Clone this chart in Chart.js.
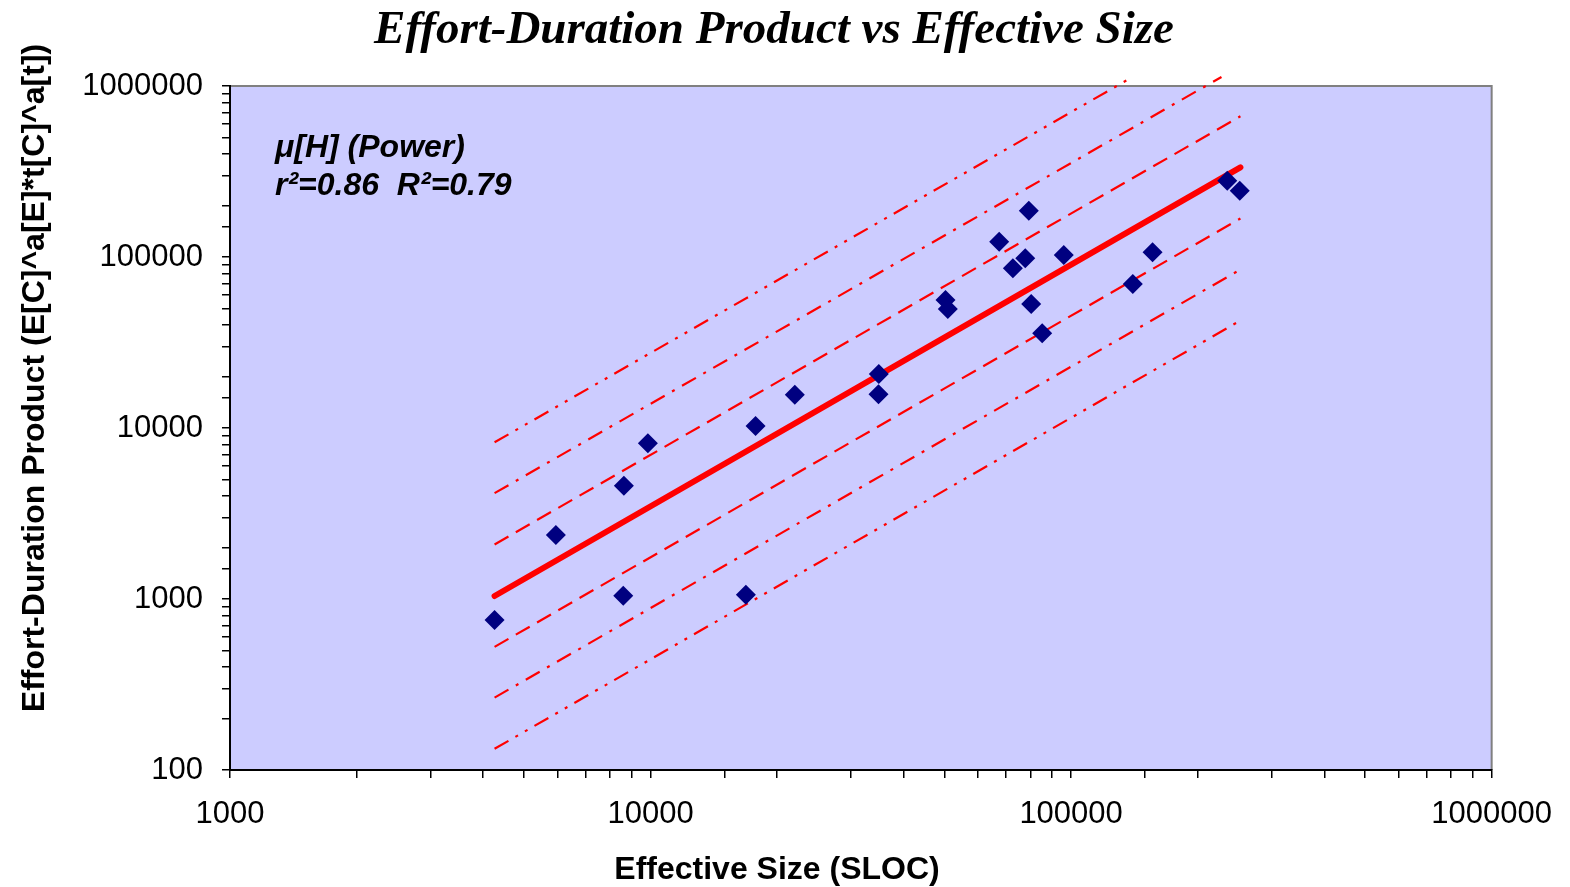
<!DOCTYPE html>
<html>
<head>
<meta charset="utf-8">
<title>Effort-Duration Product vs Effective Size</title>
<script src="https://cdn.jsdelivr.net/npm/chart.js@4/dist/chart.umd.min.js"></script>
<style>
  html, body { margin: 0; padding: 0; background: #fff; }
  canvas { display: block; }
</style>
</head>
<body>
<canvas id="myChart" width="1570" height="887"></canvas>
<script>
'use strict';

// projects: effective size (SLOC) and effort-duration product
const sizeSLOC = [
  4257, 5955, 8641, 8612, 9854, 16850, 17770, 22030, 34890, 34840, 50270, 50920,
  67460, 72690, 77800, 79330, 80380, 85350, 96070, 140200, 156200, 235100, 251800,
];
const effortDuration = [
  753, 2367, 4598, 1045, 8138, 1060, 10270, 15650, 20700, 15740, 56040, 49650,
  122900, 85870, 98260, 186600, 53120, 35790, 102700, 69530, 106500, 279400, 244200,
];

// power fit, end points
const fitSize = [4257, 252700];
const fitEffort = [1041, 334600];

// bands around the fit: x8, x4, x2 above, /2, /4, /8 below
const upper8Size = [4257, 140000];
const upper8Effort = [8250, 1130000];
const upper4Size = [4257, 227800];
const upper4Effort = [4160, 1130000];
const upper2Size = [4257, 252700];
const upper2Effort = [2085, 665000];
const lower2Size = [4257, 252700];
const lower2Effort = [525, 168000];
const lower4Size = [4257, 252700];
const lower4Effort = [265, 84500];
const lower8Size = [4257, 252700];
const lower8Effort = [133, 42500];

const xTickValues = [1000, 10000, 100000, 1000000];
const yTickValues = [100, 1000, 10000, 100000, 1000000];

const chartTitle = 'Effort-Duration Product vs Effective Size';
const xTitle = 'Effective Size (SLOC)';
const yTitle = 'Effort-Duration Product (E[C]^a[E]*t[C]^a[t])';
const fitNote = ['\u03bc[H] (Power)', 'r\u00b2=0.86  R\u00b2=0.79'];

const sans = 'Arial, "Liberation Sans", sans-serif';
const serif = '"Times New Roman", "Liberation Serif", serif';

const toPoints = (xs, ys) => xs.map((x, i) => ({ x, y: ys[i] }));

const bandLine = (xs, ys, dash) => ({
  data: toPoints(xs, ys),
  showLine: true,
  borderColor: '#ff0000',
  borderWidth: 2.2,
  borderDash: dash,
  pointRadius: 0,
  clip: false,
});

const dashed = [16, 8.5];
const dashDot = [16, 8.5, 3, 8.5];
const dashDotDot = [16, 8, 3, 8, 3, 8];

// plot background, grey frame and all the free text
const plotFrame = {
  id: 'plotFrame',
  beforeDraw(chart) {
    const { ctx, chartArea: a } = chart;
    ctx.save();
    ctx.fillStyle = '#ccccff';
    ctx.fillRect(a.left, a.top, a.right - a.left, a.bottom - a.top);
    ctx.strokeStyle = '#808080';
    ctx.lineWidth = 2;
    ctx.beginPath();
    ctx.moveTo(a.left, a.top);
    ctx.lineTo(a.right, a.top);
    ctx.lineTo(a.right, a.bottom);
    ctx.stroke();
    ctx.restore();
  },
  afterDraw(chart) {
    const { ctx } = chart;
    ctx.save();
    ctx.fillStyle = '#000';
    ctx.textBaseline = 'alphabetic';

    ctx.textAlign = 'center';
    ctx.font = `bold italic 47px ${serif}`;
    ctx.fillText(chartTitle, 774, 43);

    ctx.font = `bold 32px ${sans}`;
    ctx.fillText(xTitle, 777, 879);

    ctx.save();
    ctx.translate(44, 378);
    ctx.rotate(-Math.PI / 2);
    ctx.fillText(yTitle, 0, 0);
    ctx.restore();

    ctx.textAlign = 'left';
    ctx.font = `bold italic 32px ${sans}`;
    ctx.fillText(fitNote[0], 275, 157);
    ctx.fillText(fitNote[1], 275, 195);
    ctx.restore();
  },
};

const axisFont = { family: sans, size: 31 };

const ctx = document.getElementById('myChart');

new Chart(ctx, {
  type: 'scatter',
  data: {
    datasets: [
      {
        data: toPoints(sizeSLOC, effortDuration),
        pointStyle: 'rectRot',
        pointRadius: 10,
        pointBackgroundColor: '#000080',
        pointBorderWidth: 0,
        clip: false,
      },
      {
        data: toPoints(fitSize, fitEffort),
        showLine: true,
        borderColor: '#ff0000',
        borderWidth: 6,
        borderCapStyle: 'round',
        pointRadius: 0,
      },
      bandLine(upper2Size, upper2Effort, dashed),
      bandLine(lower2Size, lower2Effort, dashed),
      bandLine(upper4Size, upper4Effort, dashDot),
      bandLine(lower4Size, lower4Effort, dashDot),
      bandLine(upper8Size, upper8Effort, dashDotDot),
      bandLine(lower8Size, lower8Effort, dashDotDot),
    ],
  },
  options: {
    responsive: false,
    animation: false,
    devicePixelRatio: 1,
    layout: { padding: { top: 86, right: 77, left: 0, bottom: 0 } },
    plugins: {
      legend: { display: false },
      tooltip: { enabled: false },
    },
    scales: {
      x: {
        type: 'logarithmic',
        position: 'bottom',
        min: 1000,
        max: 1000000,
        afterFit(scale) {
          scale.height = 117;
        },
        ticks: {
          autoSkip: false,
          maxRotation: 0,
          minRotation: 0,
          padding: 18,
          color: '#000',
          font: axisFont,
          callback: (v) => (xTickValues.includes(v) ? String(v) : ''),
        },
        grid: {
          drawOnChartArea: false,
          drawTicks: true,
          tickLength: 8,
          color: '#000',
          lineWidth: 1.5,
        },
        border: { color: '#000', width: 2 },
      },
      y: {
        type: 'logarithmic',
        position: 'left',
        min: 100,
        max: 1000000,
        afterFit(scale) {
          scale.width = 230;
        },
        ticks: {
          autoSkip: false,
          padding: 19,
          color: '#000',
          font: axisFont,
          callback: (v) => (yTickValues.includes(v) ? String(v) : ''),
        },
        grid: {
          drawOnChartArea: false,
          drawTicks: true,
          tickLength: 8,
          color: '#000',
          lineWidth: 1.5,
        },
        border: { color: '#000', width: 2 },
      },
    },
  },
  plugins: [plotFrame],
});
</script>
</body>
</html>
